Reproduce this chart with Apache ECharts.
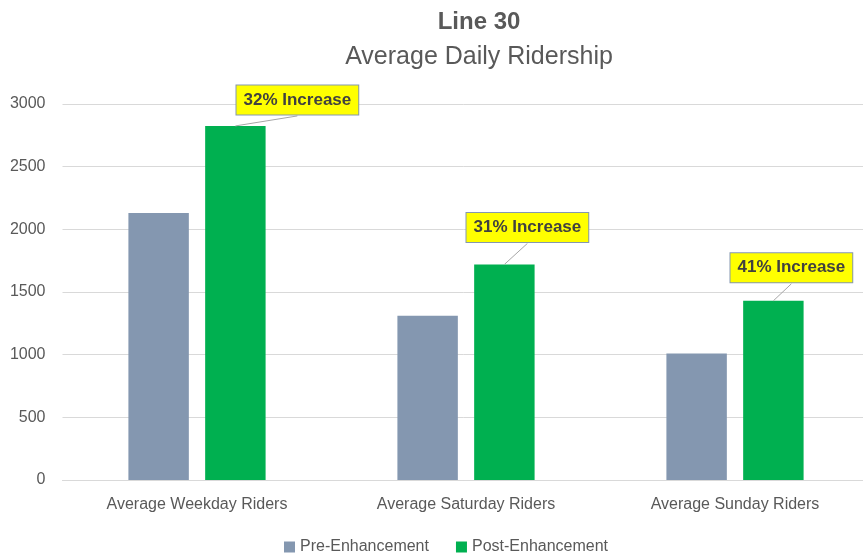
<!DOCTYPE html>
<html>
<head>
<meta charset="utf-8">
<script src="https://cdn.jsdelivr.net/npm/echarts@6/dist/echarts.min.js"></script>
<style>html,body{margin:0;padding:0;background:#fff}#c{width:863px;height:554px}</style>
</head>
<body>
<div id="c"></div>
<script>
var categories = ['Average Weekday Riders', 'Average Saturday Riders', 'Average Sunday Riders'];
var preValues = [2130, 1310, 1010];
var postValues = [2825, 1720, 1430];
var increaseLabels = ['32% Increase', '31% Increase', '41% Increase'];
var yTicks = [0, 500, 1000, 1500, 2000, 2500, 3000];

// callout offsets (px) from the top-centre of each post bar to the callout centre
var calloutShift = [[62, -26], [23, -37], [18, -33]];
var FONT = 'Liberation Sans';
var BAR_GAP = 0.27, CAT_GAP = 0.49;

var chart = echarts.init(document.getElementById('c'));
chart.setOption({
  animation: false,
  textStyle: { fontFamily: FONT },
  title: [
    { text: 'Line 30', left: 474, top: 5, textAlign: 'center',
      textStyle: { fontSize: 24, fontWeight: 'bold', color: '#595959', fontFamily: FONT } },
    { text: 'Average Daily Ridership', left: 474, top: 40, textAlign: 'center',
      textStyle: { fontSize: 25, fontWeight: 'normal', color: '#595959', fontFamily: FONT } }
  ],
  legend: {
    top: 534, left: 279, itemWidth: 11, itemHeight: 11, itemGap: 27,
    icon: 'rect',
    textStyle: { fontSize: 16, color: '#595959', fontFamily: FONT },
    data: ['Pre-Enhancement', 'Post-Enhancement']
  },
  grid: { left: 62.5, width: 807, top: 104, bottom: 74, containLabel: false, outerBoundsMode: 'none' },
  xAxis: {
    type: 'category', data: categories,
    axisLine: { lineStyle: { color: '#D9D9D9' } },
    axisTick: { show: false },
    axisLabel: { fontSize: 16, color: '#595959', margin: 17, fontFamily: FONT }
  },
  yAxis: {
    type: 'value', min: yTicks[0], max: yTicks[yTicks.length - 1], interval: 500,
    axisLine: { show: false }, axisTick: { show: false },
    splitLine: { lineStyle: { color: '#D9D9D9' } },
    axisLabel: { fontSize: 16, color: '#595959', margin: 17, fontFamily: FONT,
      formatter: function (v) { return String(v); } }
  },
  series: [
    {
      name: 'Pre-Enhancement', type: 'bar', data: preValues,
      barGap: (BAR_GAP * 100) + '%', barCategoryGap: (CAT_GAP * 100) + '%',
      itemStyle: { color: '#8497B0' }
    },
    {
      name: 'Post-Enhancement', type: 'bar', data: postValues,
      barGap: (BAR_GAP * 100) + '%', barCategoryGap: (CAT_GAP * 100) + '%',
      itemStyle: { color: '#00B050' }
    },
    {
      name: 'callouts', type: 'custom', z: 10, silent: true,
      data: postValues.map(function (v, i) { return [i, v]; }),
      renderItem: function (params, api) {
        var i = api.value(0);
        var pt = api.coord([i, api.value(1)]);
        var band = api.size([1, 0])[0];
        var w = band * (1 - CAT_GAP) / (2 + BAR_GAP);
        var bx = pt[0] + w * (1 + BAR_GAP) / 2;
        var by = pt[1];
        var s = calloutShift[i];
        var cx = bx + s[0], cy = by + s[1];
        return {
          type: 'group',
          children: [
            { type: 'line', shape: { x1: bx, y1: by, x2: cx, y2: cy + 16 },
              style: { stroke: '#A6A6A6', lineWidth: 1 } },
            { type: 'text', x: cx, y: cy,
              style: { text: increaseLabels[i], align: 'center', verticalAlign: 'middle',
                font: 'bold 17px ' + FONT, fill: '#404040',
                backgroundColor: '#FFFF00', borderColor: '#8497B0', borderWidth: 1,
                padding: [6, 7, 6, 7] } }
          ]
        };
      }
    }
  ]
});
</script>
</body>
</html>
